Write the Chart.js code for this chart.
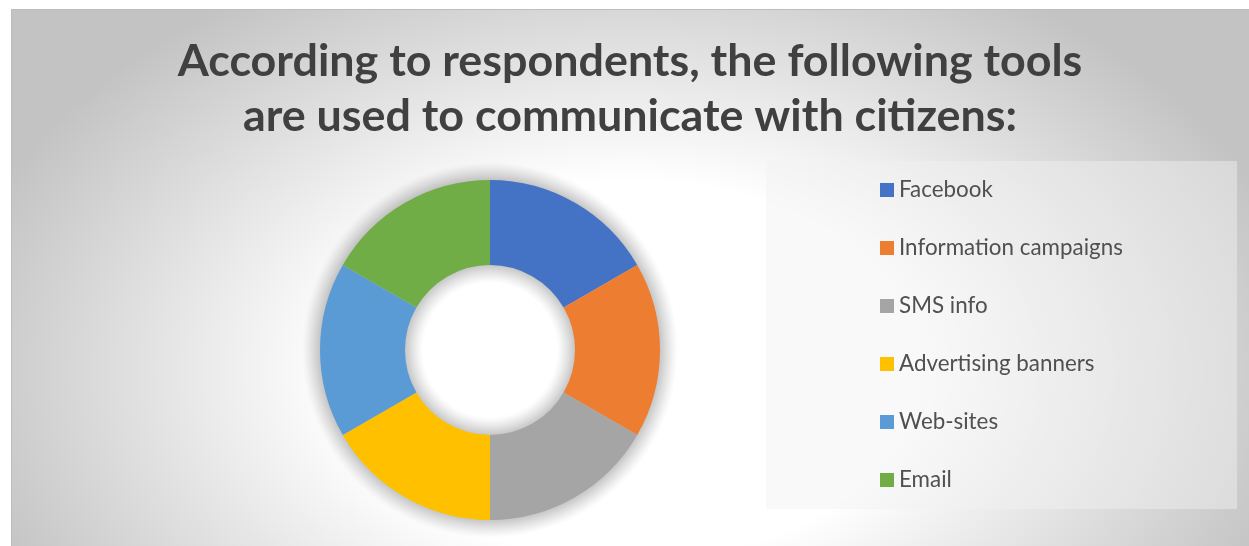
<!DOCTYPE html>
<html>
<head>
<meta charset="utf-8">
<title>Communication tools</title>
<script src="https://cdn.jsdelivr.net/npm/chart.js@4.4.1/dist/chart.umd.min.js"></script>
<style>
  html, body { margin: 0; padding: 0; background: #fff; }
  #wrap { position: relative; width: 1249px; height: 546px; }
</style>
</head>
<body>
<div id="wrap"><canvas id="tools-chart"></canvas></div>
<script>
// Survey answers: tools used to communicate with citizens
const titleLines = ['According to respondents, the following tools', 'are used to communicate with citizens:'];
const tools = ['Facebook', 'Information campaigns', 'SMS info', 'Advertising banners', 'Web-sites', 'Email'];
const shares = [1, 1, 1, 1, 1, 1];
const toolColors = ['#4472C4', '#ED7D31', '#A5A5A5', '#FFC000', '#5B9BD5', '#70AD47'];

// Pick a font size so a line of text comes out at the wanted width
function fitFontSize(text, weight, family, targetWidth) {
  const ctx = document.createElement('canvas').getContext('2d');
  ctx.font = weight + ' 100px ' + family;
  return 100 * targetWidth / ctx.measureText(text).width;
}

const titleSize = fitFontSize(titleLines[0], 'bold', 'Lato', 905);
const legendSize = fitFontSize(tools[1], 'normal', 'Lato', 224);

// Soft shadow around the ring (outside and into the hole), one radial gradient
function drawRingShadow(chart) {
  const ctrl = chart.getDatasetMeta(0).controller;
  const area = chart.chartArea;
  const outer = ctrl.outerRadius || Math.min(area.width, area.height) / 2;
  const inner = ctrl.innerRadius || outer / 2;
  const x = (area.left + area.right) / 2 + (ctrl.offsetX || 0);
  const y = (area.top + area.bottom) / 2 + (ctrl.offsetY || 0);
  const spread = 18, peak = 0.22;
  const r0 = inner - spread, r1 = outer + spread, span = r1 - r0;
  const ctx = chart.ctx;
  const g = ctx.createRadialGradient(x, y, r0, x, y, r1);
  const steps = 9;
  for (let i = 0; i <= steps; i++) {
    const t = i / steps;
    const a = (peak * Math.pow(t, 1.2)).toFixed(3);
    g.addColorStop((spread * t) / span, 'rgba(0,0,0,' + a + ')');
    g.addColorStop((span - spread * t) / span, 'rgba(0,0,0,' + a + ')');
  }
  ctx.save();
  ctx.fillStyle = g;
  ctx.beginPath();
  ctx.arc(x, y, r1, 0, Math.PI * 2, false);
  ctx.closePath();
  ctx.moveTo(x + r0, y);
  ctx.arc(x, y, r0, 0, Math.PI * 2, true);
  ctx.closePath();
  ctx.fill();
  ctx.restore();
}

// Soft grey radial fill behind the whole chart, then the ring shadow
const backdrop = {
  id: 'backdrop',
  beforeDraw(chart) {
    const ctx = chart.ctx;
    const x0 = 11, y0 = 9, w = chart.width - x0, h = chart.height - y0;
    const cx = 630, cy = 370, rx = 690, ry = 450;
    const sx = rx / ry;
    ctx.save();
    ctx.translate(cx, cy);
    ctx.scale(sx, 1);
    const g = ctx.createRadialGradient(0, 0, 0, 0, 0, ry);
    g.addColorStop(0, '#ffffff');
    g.addColorStop(0.42, '#ffffff');
    g.addColorStop(1, '#c3c3c3');
    ctx.fillStyle = g;
    ctx.fillRect((x0 - cx) / sx, y0 - cy, w / sx, h);
    ctx.restore();
    ctx.save();
    ctx.strokeStyle = '#bdbdbd';
    ctx.lineWidth = 1;
    ctx.beginPath();
    ctx.moveTo(x0 + 0.5, chart.height);
    ctx.lineTo(x0 + 0.5, y0 + 0.5);
    ctx.lineTo(chart.width, y0 + 0.5);
    ctx.stroke();
    ctx.restore();
    drawRingShadow(chart);
  }
};

// Legend panel placed as its own layout box on the right
const legendPanel = {
  id: 'legendPanel',
  beforeInit(chart) {
    const box = {
      position: 'right',
      weight: 1,
      fullSize: false,
      options: {},
      top: 0, left: 0, right: 0, bottom: 0, width: 0, height: 0,
      isHorizontal() { return false; },
      update(maxWidth, maxHeight) {
        this.width = 280;
        this.height = maxHeight;
      },
      draw() { drawLegend(chart); }
    };
    Chart.layouts.addBox(chart, box);
  }
};

function drawLegend(chart) {
  const ctx = chart.ctx;
  const items = (chart.legend && chart.legend.legendItems && chart.legend.legendItems.length)
    ? chart.legend.legendItems
    : chart.data.labels.map((t, i) => ({text: t, fillStyle: chart.data.datasets[0].backgroundColor[i]}));

  const panel = {left: 766, top: 161, right: 1237, bottom: 509};
  ctx.save();
  ctx.fillStyle = 'rgba(242,242,242,0.45)';
  ctx.fillRect(panel.left, panel.top, panel.right - panel.left, panel.bottom - panel.top);

  const box = 14, gap = 5, rowStep = 58;
  ctx.font = 'normal ' + legendSize + 'px Lato';
  let widest = 0;
  items.forEach(it => { widest = Math.max(widest, ctx.measureText(it.text).width); });
  const colW = box + gap + widest;
  const startX = Math.round((panel.left + panel.right) / 2 - colW / 2);
  const blockH = (items.length - 1) * rowStep + box;
  const startY = Math.round((panel.top + panel.bottom) / 2 - blockH / 2);

  ctx.textBaseline = 'alphabetic';
  ctx.textAlign = 'left';
  items.forEach((it, i) => {
    const y = startY + i * rowStep;
    ctx.fillStyle = it.fillStyle;
    ctx.fillRect(startX, y, box, box);
    ctx.fillStyle = '#505050';
    ctx.fillText(it.text, startX + box + gap, y + box);
  });
  ctx.restore();
}

const chart = new Chart(document.getElementById('tools-chart'), {
  type: 'doughnut',
  data: {
    labels: tools,
    datasets: [{
      data: shares,
      backgroundColor: toolColors,
      borderWidth: 0,
      hoverOffset: 0
    }]
  },
  options: {
    responsive: true,
    maintainAspectRatio: false,
    animation: false,
    events: [],
    cutout: '50%',
    layout: {
      padding: {left: 11, top: 9, right: 0, bottom: 26}
    },
    plugins: {
      legend: {display: false},
      tooltip: {enabled: false},
      title: {
        display: true,
        text: titleLines,
        color: '#404040',
        font: {family: 'Lato', weight: 'bold', size: titleSize, lineHeight: '55px'},
        padding: {top: 25.5, bottom: 35.5}
      }
    }
  },
  plugins: [backdrop, legendPanel]
});
</script>
</body>
</html>
